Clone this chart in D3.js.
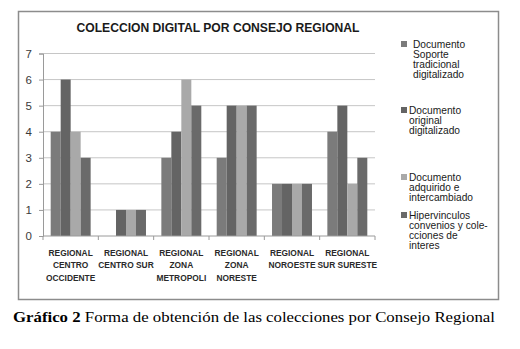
<!DOCTYPE html>
<html>
<head>
<meta charset="utf-8">
<script src="https://cdn.jsdelivr.net/npm/d3@7"></script>
<style>
  body { margin: 0; background: #fff; }
  svg { display: block; }
</style>
</head>
<body>
<svg id="chart" width="520" height="349"></svg>
<script>
(function () {

// categories (multi-line labels) and series values
const categories = ["CO", "CS", "ZM", "ZN", "NO", "SS"];
const categoryLabels = [
  ["REGIONAL", "CENTRO", "OCCIDENTE"],
  ["REGIONAL", "CENTRO SUR"],
  ["REGIONAL", "ZONA", "METROPOLI"],
  ["REGIONAL", "ZONA", "NORESTE"],
  ["REGIONAL", "NOROESTE"],
  ["REGIONAL", "SUR SURESTE"]
];
const seriesNames = ["s1", "s2", "s3", "s4"];
const soporteTradicional = [4, 0, 3, 3, 2, 4];
const originalDigitalizado = [6, 1, 4, 5, 2, 5];
const adquiridoIntercambiado = [4, 1, 6, 5, 2, 2];
const hipervinculos = [3, 1, 5, 5, 2, 3];
const legendLabels = [
  ["Documento", "Soporte", "tradicional", "digitalizado"],
  ["Documento", "original", "digitalizado"],
  ["Documento", "adquirido e", "intercambiado"],
  ["Hipervinculos", "convenios y cole-", "cciones de", "interes"]
];
const yTicks = [0, 1, 2, 3, 4, 5, 6, 7];

const seriesValues = [soporteTradicional, originalDigitalizado, adquiridoIntercambiado, hipervinculos];
const colors = ["#7b7b7b", "#646464", "#a9a9a9", "#6a6a6a"];

const svg = d3.select("#chart");

// outer chart frame
svg.append("rect")
    .attr("x", 18.5).attr("y", 11.5)
    .attr("width", 480).attr("height", 288)
    .attr("fill", "#fff")
    .attr("stroke", "#8c8c8c")
    .attr("stroke-width", 1.5);

// title
svg.append("text")
    .attr("x", 218).attr("y", 32)
    .attr("text-anchor", "middle")
    .attr("textLength", 283)
    .attr("lengthAdjust", "spacingAndGlyphs")
    .style("font-family", "'Liberation Sans', Arial, sans-serif")
    .style("font-size", "12.5px")
    .style("font-weight", "bold")
    .style("fill", "#1a1a1a")
    .text("COLECCION DIGITAL POR CONSEJO REGIONAL");

const left = 43, right = 375, top = 53.5, bottom = 236;

const x0 = d3.scaleBand()
    .domain(categories)
    .range([left, right])
    .padding(0);

const x1 = d3.scaleBand()
    .domain(seriesNames)
    .range([0, x0.bandwidth()])
    .paddingInner(0)
    .paddingOuter(0.77);

const y = d3.scaleLinear()
    .domain([0, 7])
    .range([bottom, top]);

// gridlines
svg.append("g")
    .selectAll("line")
    .data(yTicks.filter(d => d > 0))
    .enter().append("line")
    .attr("x1", left).attr("x2", right)
    .attr("y1", d => y(d)).attr("y2", d => y(d))
    .attr("stroke", "#c6c6c6")
    .attr("stroke-width", 1);

// bars
const groups = svg.append("g")
    .selectAll("g")
    .data(categories)
    .enter().append("g")
    .attr("transform", d => `translate(${x0(d)},0)`);

groups.selectAll("rect")
    .data((c, i) => seriesNames.map((s, j) => ({ s: s, j: j, v: seriesValues[j][i] })))
    .enter().append("rect")
    .attr("x", d => x1(d.s))
    .attr("y", d => y(d.v))
    .attr("width", x1.bandwidth())
    .attr("height", d => bottom - y(d.v))
    .attr("fill", d => colors[d.j]);

// y axis
const yAxis = svg.append("g")
    .attr("transform", `translate(${left},0)`)
    .call(d3.axisLeft(y).tickValues(yTicks).tickFormat(d3.format("d")).tickSize(4).tickPadding(7));
yAxis.select(".domain").attr("stroke", "#9a9a9a");
yAxis.selectAll(".tick line").attr("stroke", "#9a9a9a");
yAxis.selectAll(".tick text")
    .style("font-family", "'Liberation Sans', Arial, sans-serif")
    .style("font-size", "11.5px")
    .style("fill", "#3a3a3a");

// x axis baseline with ticks at category boundaries
const xAxis = svg.append("g");
xAxis.append("line")
    .attr("x1", left).attr("x2", right)
    .attr("y1", bottom).attr("y2", bottom)
    .attr("stroke", "#9a9a9a");
const bounds = categories.map(c => x0(c)).concat([x0(categories[categories.length - 1]) + x0.bandwidth()]);
xAxis.selectAll(".bt")
    .data(bounds)
    .enter().append("line")
    .attr("x1", d => d).attr("x2", d => d)
    .attr("y1", bottom).attr("y2", bottom + 4)
    .attr("stroke", "#9a9a9a");

// category labels
const labels = svg.append("g")
    .selectAll("text")
    .data(categories)
    .enter().append("text")
    .attr("x", d => x0(d) + x0.bandwidth() / 2)
    .attr("y", 256)
    .attr("text-anchor", "middle")
    .style("font-family", "'Liberation Sans', Arial, sans-serif")
    .style("font-size", "8.4px")
    .style("font-weight", "bold")
    .style("fill", "#2a2a2a");
labels.selectAll("tspan")
    .data((d, i) => categoryLabels[i])
    .enter().append("tspan")
    .attr("x", function () { return d3.select(this.parentNode).attr("x"); })
    .attr("dy", (d, i) => i === 0 ? 0 : 12.3)
    .text(d => d);

// legend
const legendY = [41, 107, 174, 212];
const legendTextX = [413, 409, 409, 409];
const legend = svg.append("g")
    .selectAll("g")
    .data(legendLabels)
    .enter().append("g");
legend.append("rect")
    .attr("x", 401).attr("y", (d, i) => legendY[i])
    .attr("width", 6).attr("height", 6)
    .attr("fill", (d, i) => colors[i]);
legend.append("text")
    .attr("y", (d, i) => legendY[i] + 7)
    .style("font-family", "'Liberation Sans', Arial, sans-serif")
    .style("font-size", "10.2px")
    .style("fill", "#1a1a1a")
    .each(function (d, i) {
      d3.select(this).selectAll("tspan")
        .data(d)
        .enter().append("tspan")
        .attr("x", legendTextX[i])
        .attr("dy", (t, k) => k === 0 ? 0 : 10)
        .text(t => t);
    });

// caption below the chart
const caption = svg.append("text")
    .attr("x", 13).attr("y", 322)
    .attr("textLength", 482)
    .attr("lengthAdjust", "spacingAndGlyphs")
    .style("font-family", "'Liberation Serif', 'Times New Roman', serif")
    .style("font-size", "15px")
    .style("fill", "#000");
caption.append("tspan").style("font-weight", "bold").text("Gráfico 2");
caption.append("tspan").text(" Forma de obtención de las colecciones por Consejo Regional");

})();
</script>
</body>
</html>
